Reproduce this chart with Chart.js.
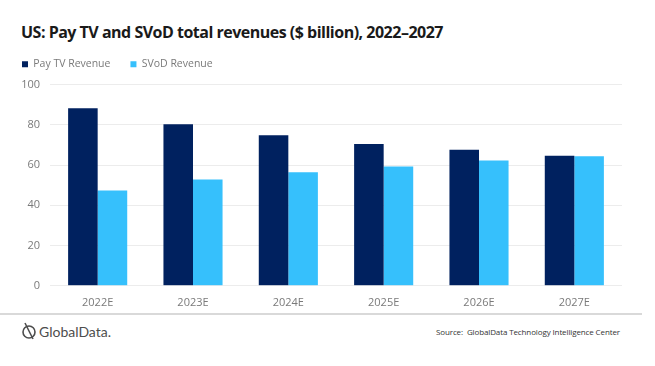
<!DOCTYPE html>
<html>
<head>
<meta charset="utf-8">
<script src="https://cdn.jsdelivr.net/npm/chart.js@4"></script>
<style>
  body { margin: 0; background: #fff; width: 655px; height: 366px; overflow: hidden; font-family: "Open Sans", sans-serif; }
  #titulo { position: absolute; left: 21px; top: 21px; font-weight: bold; font-size: 16px; color: #1a1a1a; white-space: nowrap; letter-spacing: -0.5px; }
  #graf { position: absolute; left: 2px; top: 39px; width: 638px; height: 272px; }
  #linea { position: absolute; left: 0; top: 313px; width: 642px; height: 2px; background: #d9d9d9; }
  #logo { position: absolute; left: 21px; top: 322px; font-family: Lato, sans-serif; font-size: 14px; color: #4d4d4d; white-space: nowrap; display: flex; align-items: center; }
  #fuente { position: absolute; left: 436px; top: 326px; font-size: 8px; color: #333; white-space: nowrap; letter-spacing: -0.12px; }
</style>
</head>
<body>
<div id="titulo">US: Pay TV and SVoD total revenues ($ billion), 2022–2027</div>
<div id="graf"><canvas id="lienzo"></canvas></div>
<div id="linea"></div>
<div id="logo"><svg width="16" height="18" viewBox="0 0 16 18"><circle cx="8" cy="10" r="6" fill="none" stroke="#4d4d4d" stroke-width="1.6"/><line x1="4" y1="1" x2="12" y2="17" stroke="#4d4d4d" stroke-width="1.6"/></svg><span style="margin-left:2px">GlobalData.</span></div>
<div id="fuente">Source:&nbsp; GlobalData Technology Intelligence Center</div>
<script>
// Datos
const Anios = ["2022E", "2023E", "2024E", "2025E", "2026E", "2027E"];
const PayTV = [88.2, 80.3, 74.8, 70.5, 67.6, 64.6];
const SVoD = [47.3, 52.8, 56.4, 59.3, 62.2, 64.4];
const TicksY = [0, 20, 40, 60, 80, 100];

// Espacio extra debajo de la leyenda
const EspacioLeyenda = {
	id: "espacioLeyenda",
	beforeInit(chart) {
		const fitOrig = chart.legend.fit;
		chart.legend.fit = function() {
			fitOrig.bind(chart.legend)();
			this.height += 5;
		};
	}
};

const grafica = document.getElementById("lienzo");
const Conf = {
	type: "bar",
	data: {
		labels: Anios,
		datasets: [{
			label: "Pay TV Revenue",
			data: PayTV,
			backgroundColor: "#00215f",
			categoryPercentage: 0.62,
			barPercentage: 1.0,
			}, {
			label: "SVoD Revenue",
			data: SVoD,
			backgroundColor: "#36c0fc",
			categoryPercentage: 0.62,
			barPercentage: 1.0,
			}
		]},
	options: {
		responsive: true,
		maintainAspectRatio: false,
		animation: false,
		layout: {padding: {left: 0, right: 18, top: 0, bottom: 0}},
		scales: {
			x: {
				grid: {display: false},
				border: {display: false},
				ticks: {color: "#7a7a7a", font: {size: 11, family: "Open Sans"}, padding: 2}
			},
			y: {
				min: 0, max: 100,
				afterFit: (eje) => { eje.width = 48; },
				afterBuildTicks: (eje) => { eje.ticks = TicksY.map(v => ({value: v})); },
				grid: {color: "#ececec", drawTicks: false},
				border: {display: false},
				ticks: {color: "#7a7a7a", font: {size: 11, family: "Open Sans"}, padding: 10}
			}
		},
		plugins: {
			legend: {
				position: "top",
				align: "start",
				labels: {boxWidth: 6, boxHeight: 6, color: "#7a7a7a", font: {size: 10.5, family: "Open Sans"}, padding: 20}
			},
			tooltip: {enabled: false}
		}
	},
	plugins: [EspacioLeyenda]
};

window.Graf = new Chart(grafica, Conf);
</script>
</body>
</html>
